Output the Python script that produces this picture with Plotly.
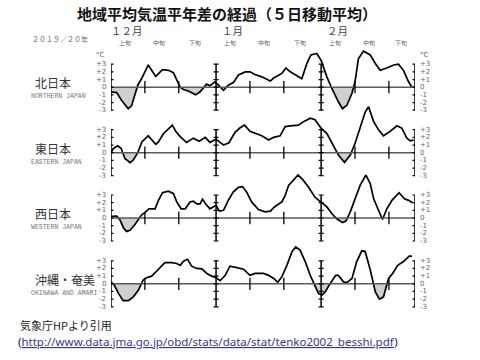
import plotly.graph_objects as go

W, H = 480, 360

title = "地域平均気温平年差の経過（５日移動平均）"
season = "２０１９／２０年"
months = ["１２月", "１月", "２月"]
dekads = ["上旬", "中旬", "下旬"] * 3
dekad_bounds = [0, 10, 20, 31, 41, 51, 62, 72, 82, 91]   # days from Dec 1
month_lines = [31, 62]
x_end = 89.7
tick_vals = [3, 2, 1, 0, -1, -2, -3]
tick_text = ["+3", "+2", "+1", "0", "-1", "-2", "-3"]

regions = ["北日本", "東日本", "西日本", "沖縄・奄美"]
regions_en = ["NORTHERN JAPAN", "EASTERN JAPAN", "WESTERN JAPAN", "OKINAWA AND AMAMI"]

north_day = [0, 1.7, 3.1, 5.1, 6.1, 7.9, 9, 11, 13.2, 15.2, 17, 18.4, 20.4, 21.4, 22.8, 25, 26.3, 28.2,
             29.2, 30.7, 31.7, 33.2, 34.6, 36.1, 37.6, 39.6, 41, 42.5, 44.5, 47, 48, 49.4, 50.4, 51.6,
             52.9, 54.5, 56.3, 57.8, 59, 60.7, 62, 63.7, 65.2, 67.1, 68.3, 69.6, 71.1, 72, 73, 74.5,
             76.5, 78, 79.4, 81.4, 83.4, 84.8, 86.3, 87.8, 88.8]
north_val = [-0.6, -0.7, -1.7, -2.8, -2.4, 0.26, 1.1, 2.9, 1.4, 2.3, 2.2, 1.9, 0, -0.3, -0.5, -1.0, -0.6,
             0.4, 0.2, 0.7, 0.26, -0.4, 0.26, 0.6, 1.6, 2.0, 2.0, 1.65, 1.35, 0.8, 1.2, 1.5, 1.8, 2.5,
             2.0, 1.6, 1.1, 3.1, 4.2, 4.4, 3.5, 1.35, -0.2, -1.9, -2.8, -2.35, -0.8, 0.7, 3.7, 4.7,
             4.2, 3.1, 2.2, 2.5, 2.9, 3.0, 2.2, 0.7, 0]

east_day = [0, 0.7, 2, 3, 4.1, 5.6, 6.6, 7.9, 9.1, 11, 13.2, 14, 15.5, 16.7, 18.1, 19.1, 20.4, 22.3,
            24.3, 26, 27.8, 29.2, 31, 32.2, 33.2, 34.8, 36.6, 38.1, 39.4, 41, 42.5, 44.5, 46.5, 48,
            49.9, 51.4, 52.9, 55.3, 56.8, 58.8, 60.2, 62, 63.7, 65.6, 67.1, 68.9, 70.6, 72, 73.5, 75,
            76, 77.5, 79, 80.4, 82.4, 84.4, 85.8, 87.3, 88.3, 89.3]
east_val = [0, 0.55, 0.9, 0.55, -0.75, -1.3, -0.95, 0, 1.4, 2.2, 1.1, 1.4, 2.5, 3.0, 3.6, 2.8, 2.1, 1.35,
            1.9, 1.5, 2.0, 1.35, 1.75, 1.35, 1.0, 1.3, 2.65, 3.25, 3.6, 2.8, 2.5, 2.2, 1.65, 2.0,
            2.2, 3.4, 3.5, 3.6, 4.05, 4.5, 4.3, 3.2, 2.5, 1.0, -0.3, -1.25, -0.3, 1.2, 3.4, 5.3,
            6.0, 4.05, 2.95, 2.2, 2.8, 3.5, 3.2, 1.9, 1.55, 1.65]

west_day = [0, 1.7, 2.7, 3.7, 4.6, 5.6, 6.9, 8.1, 9.1, 10, 11.2, 13, 14, 15.2, 16.9, 18.4, 19.4, 20.7,
            21.9, 23.3, 24.3, 25.3, 26.3, 27, 28, 29.2, 31, 32, 33.2, 34.6, 36.1, 37.6, 38.8, 40,
            41.5, 43.5, 45.5, 47, 48.4, 50.4, 51.4, 52.4, 53.8, 55.2, 56.6, 58.3, 60.2, 62, 63.7,
            65.2, 66.6, 68.3, 69.3, 70.6, 72, 73.5, 75.2, 76.5, 77.5, 79, 80.1, 81.4, 82.9, 85,
            86.6, 87.8, 89]
west_val = [0.2, 0.25, -0.3, -1.3, -1.75, -1.6, -0.95, -0.1, 0.45, 0.7, 1.2, 1.2, 2.3, 3.3, 3.5, 3.2,
            2.1, 1.2, 1.2, 2.1, 2.2, 1.85, 1.85, 2.45, 1.8, 1.2, 1.65, 0.9, 1.0, 2.3, 3.4, 4.0, 4.1,
            3.4, 2.1, 1.1, 0.8, 0.9, 1.5, 2.1, 2.95, 4.25, 4.9, 5.6, 5.0, 4.0, 2.7, 2.0, 1.45,
            0.55, -0.1, -0.6, -0.4, 0.8, 2.5, 4.25, 5.6, 4.5, 2.5, 0.8, -0.2, 1.2, 2.3, 3.3,
            2.5, 2.3, 2.0]

oki_day = [0, 1, 2.2, 3.6, 5.1, 6.6, 8.1, 9.5, 10.5, 12, 14, 15.9, 17.9, 19.4, 20.4, 21.4, 22.6, 23.8,
           25.3, 26.8, 28.3, 29.7, 31, 32.2, 33.7, 35.1, 37.1, 39.1, 41, 42.5, 45, 46.5, 48, 49.2,
           50.4, 51.9, 53.4, 54.5, 55.8, 57.3, 58.8, 60.2, 61.2, 62.2, 63.2, 64.7, 66.3, 67.1, 68.6,
           69.6, 71.1, 72.5, 74, 75, 76.5, 78, 79.2, 80.4, 81.9, 83.1, 84.6, 86.3, 88, 88.8]
oki_val = [0.25, -0.2, -1.25, -2.2, -2.2, -1.7, -0.8, 0.5, 0.8, 1.0, 1.9, 2.75, 2.75, 2.65, 2.4, 2.95,
           3.2, 2.3, 2.0, 1.95, 1.35, 1.0, 0.8, 0.4, 1.1, 2.3, 2.1, 1.9, 1.1, 1.35, 1.35, 1.1, 0.7,
           0.2, 0.9, 2.4, 4.2, 4.8, 4.4, 2.9, 1.1, -0.4, -1.25, -1.5, -1.05, 0.05, 1.1, 1.1, 0.25,
           0.15, 0.7, 2.9, 4.3, 4.2, 1.8, -1.05, -2.0, -1.7, 0.7, 1.35, 2.4, 2.9, 3.6, 3.6]

series = [(north_day, north_val), (east_day, east_val), (west_day, west_val), (oki_day, oki_val)]

source_jp = "気象庁HPより引用"
source_url = "http://www.data.jma.go.jp/obd/stats/data/stat/tenko2002_besshi.pdf"

# ---- layout geometry (pixels) ----
zero_px = [87.2, 152.7, 218.0, 283.8]
px_per_unit = 7.67
y_lo, y_hi = -3.6, 6.6
x_left_px, x_right_px = 111, 415

JP = "Noto Sans CJK JP"


def neg_part(xs, ys):
    px, py = [], []
    for i in range(len(xs)):
        if i > 0 and ys[i - 1] * ys[i] < 0:
            t = ys[i - 1] / (ys[i - 1] - ys[i])
            px.append(xs[i - 1] + t * (xs[i] - xs[i - 1]))
            py.append(0)
        px.append(xs[i])
        py.append(min(ys[i], 0))
    return px, py


def ann(**kw):
    kw.setdefault("showarrow", False)
    kw.setdefault("xanchor", "center")
    kw.setdefault("yanchor", "middle")
    return kw


fig = go.Figure()
layout = dict(
    width=W, height=H, margin=dict(l=0, r=0, t=0, b=0),
    paper_bgcolor="white", plot_bgcolor="rgba(0,0,0,0)", showlegend=False,
    xaxis=dict(domain=[x_left_px / W, x_right_px / W], range=[0, x_end], visible=False, anchor="y4"),
)
shapes, annots = [], []
small = dict(size=7, color="#666", family="DejaVu Sans")

for k, (xs, ys) in enumerate(series):
    yid = "y" if k == 0 else f"y{k + 1}"
    lname = "yaxis" if k == 0 else f"yaxis{k + 1}"
    z = zero_px[k]
    bot = 1 - (z - y_lo * px_per_unit) / H
    top = 1 - (z - y_hi * px_per_unit) / H
    layout[lname] = dict(domain=[bot, top], range=[y_lo, y_hi], visible=False, anchor="x")

    nx, ny = neg_part(xs, ys)
    fig.add_trace(go.Scatter(x=nx, y=ny, xaxis="x", yaxis=yid, mode="lines", line=dict(width=0),
                             fill="tozeroy", fillcolor="#cfcfcf", hoverinfo="skip"))
    fig.add_trace(go.Scatter(x=xs, y=ys, xaxis="x", yaxis=yid, mode="lines",
                             line=dict(color="black", width=1.7)))

    # zero line
    shapes.append(dict(type="line", xref="x", yref=yid, x0=0, x1=x_end, y0=0, y1=0,
                       line=dict(color="#5a5a5a", width=1.6)))
    # long vertical scales
    for xv in [0] + month_lines + [x_end]:
        shapes.append(dict(type="line", xref="x", yref=yid, x0=xv, x1=xv, y0=-3, y1=3,
                           line=dict(color="black", width=1.5)))
        for v in tick_vals:
            shapes.append(dict(type="line", xref="x", yref=yid, xsizemode="pixel", xanchor=xv,
                               x0=-2.5, x1=2.5, y0=v, y1=v, line=dict(color="black", width=1.2)))
    # dekad ticks
    for xv in dekad_bounds[1:-1]:
        if xv in month_lines:
            continue
        shapes.append(dict(type="line", xref="x", yref=yid, x0=xv, x1=xv, y0=-0.8, y1=0.8,
                           line=dict(color="black", width=1.3)))
    # tick labels both sides
    for v, t in zip(tick_vals, tick_text):
        annots.append(ann(x=0, y=v, xref="x", yref=yid, text=t, xanchor="right", xshift=-3, font=small))
        annots.append(ann(x=x_end, y=v, xref="x", yref=yid, text=t, xanchor="left", xshift=3, font=small))
    # region names
    annots.append(ann(x=33 / W, y=0.6, xref="paper", yref=yid, text=regions[k], xanchor="left",
                      font=dict(size=12, color="#333", family=JP)))
    annots.append(ann(x=29 / W, y=-1.25, xref="paper", yref=yid, text=regions_en[k], xanchor="left",
                      font=dict(size=6.5, color="#777", family="Liberation Mono")))

# degree labels
annots.append(ann(x=0, y=4.2, xref="x", yref="y", text="°C", xanchor="right", xshift=-4, font=small))
annots.append(ann(x=x_end, y=4.2, xref="x", yref="y", text="°C", xanchor="left", xshift=3, font=small))

# title and header texts
annots.append(ann(x=227 / W, y=1 - 14 / H, xref="paper", yref="paper", text=f"<b>{title}</b>",
                  font=dict(size=15, color="#111", family=JP)))
annots.append(ann(x=60 / W, y=1 - 39 / H, xref="paper", yref="paper", text=season,
                  font=dict(size=7, color="#666", family=JP)))
centers = [(dekad_bounds[i] + dekad_bounds[i + 1]) / 2 - 0.8 for i in range(len(dekad_bounds) - 1)]
for c, d in zip(centers, dekads):
    annots.append(ann(x=c, y=1 - 42 / H, xref="x", yref="paper", text=d,
                      font=dict(size=6, color="#666", family=JP)))
for m, c in zip(months, centers[0::3]):
    annots.append(ann(x=c + 0.6, y=1 - 30 / H, xref="x", yref="paper", text=m,
                      font=dict(size=10.5, color="#444", family=JP)))

# source text
annots.append(ann(x=18 / W, y=1 - 324.5 / H, xref="paper", yref="paper", xanchor="left", text=source_jp,
                  font=dict(size=11, color="#222", family=JP)))
annots.append(ann(x=16 / W, y=1 - 341.5 / H, xref="paper", yref="paper", xanchor="left",
                  text=f"(<span style='color:#35359a'><u>{source_url}</u></span>)",
                  font=dict(size=11.5, color="#222", family="Noto Sans")))

layout["shapes"] = shapes
layout["annotations"] = annots
fig.update_layout(**layout)
fig.write_html("out.html", config={"displayModeBar": False},
               post_script="document.body.style.margin='0px';document.body.style.overflow='hidden';")
